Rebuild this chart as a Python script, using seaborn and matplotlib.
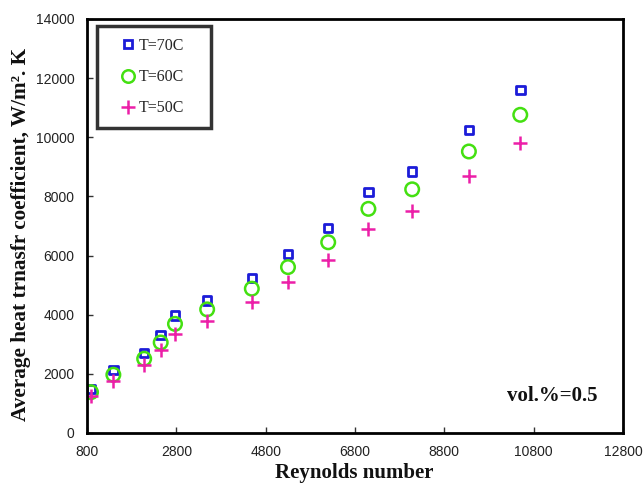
import matplotlib
matplotlib.use("Agg")
import matplotlib.pyplot as plt
import seaborn as sns
import pandas as pd
from matplotlib.lines import Line2D

# Reynolds number for each measurement
reynolds = [890, 1390, 2080, 2450, 2770, 3490, 4490, 5300, 6200, 7100, 8080, 9350, 10500]

# Average heat transfer coefficient (W/m2.K) at each inlet temperature
h_70 = [1490, 2130, 2710, 3320, 3970, 4490, 5240, 6050, 6930, 8150, 8840, 10250, 11600]
h_60 = [1380, 1970, 2510, 3060, 3690, 4180, 4880, 5610, 6450, 7580, 8240, 9520, 10760]
h_50 = [1260, 1770, 2290, 2800, 3340, 3800, 4430, 5100, 5850, 6910, 7500, 8690, 9800]

labels = ["T=70C", "T=60C", "T=50C"]
colors = ["#1c1cd8", "#44e011", "#ec1fa8"]

df = pd.DataFrame({
    "Re": reynolds * 3,
    "h": h_70 + h_60 + h_50,
    "series": [labels[0]] * len(reynolds) + [labels[1]] * len(reynolds) + [labels[2]] * len(reynolds),
})

sns.set_theme(style="white")
plt.rcParams["font.family"] = ["Liberation Sans", "DejaVu Sans"]

fig = plt.figure(figsize=(6.44, 4.84), dpi=100)
ax = fig.add_axes([87 / 644, 1 - 433 / 484, 536 / 644, 414 / 484])

styles = {
    labels[0]: dict(marker="s", s=38, facecolors="none", linewidths=2.0),
    labels[1]: dict(marker="o", s=95, facecolors="none", linewidths=1.8),
    labels[2]: dict(marker="+", s=110, linewidths=1.8),
}

for lab, col in zip(labels, colors):
    sub = df[df["series"] == lab]
    kw = dict(styles[lab])
    if kw["marker"] == "+":
        sns.scatterplot(data=sub, x="Re", y="h", ax=ax, color=col, legend=False, **kw)
    else:
        sns.scatterplot(data=sub, x="Re", y="h", ax=ax, edgecolor=col, legend=False, **kw)

ax.set_xlim(800, 12800)
ax.set_ylim(0, 14000)
ax.set_xticks(range(800, 12801, 2000))
ax.set_yticks(range(0, 14001, 2000))
ax.set_xlabel("")
ax.set_ylabel("")

for side in ["left", "bottom", "right", "top"]:
    ax.spines[side].set_color("black")
    ax.spines[side].set_linewidth(2.0)
ax.tick_params(axis="both", which="both", direction="in", length=4, width=1,
               color="#333333", labelsize=10, labelcolor="#222222",
               left=True, bottom=True, right=False, top=False, pad=9)

# Legend with outlined markers
handles = [
    Line2D([], [], marker="s", color=colors[0], markerfacecolor="none", markeredgewidth=2.0,
           markersize=6, linestyle="none"),
    Line2D([], [], marker="o", color=colors[1], markerfacecolor="none", markeredgewidth=1.8,
           markersize=9, linestyle="none"),
    Line2D([], [], marker="+", color=colors[2], markeredgewidth=1.8, markersize=10,
           linestyle="none"),
]
leg = ax.legend(handles, labels, loc="upper left",
                bbox_to_anchor=(0.0187, 0.761, 0.2127, 0.222), mode="expand",
                borderaxespad=0, frameon=True, fancybox=False, handlelength=2.4,
                handletextpad=-0.55, labelspacing=0.95, borderpad=0.75,
                prop={"family": "Liberation Serif", "size": 11.5})
leg.get_frame().set_edgecolor("black")
leg.get_frame().set_linewidth(2.5)
leg.get_frame().set_facecolor("white")

ax.text(0.953, 0.09, "vol.%=0.5", transform=ax.transAxes, ha="right", va="center",
        fontsize=15, fontweight="bold", family="Liberation Serif", color="#111111")

fig.text(354 / 644, 1 - 473 / 484, "Reynolds number", ha="center", va="center",
         fontsize=15, fontweight="bold", family="Liberation Serif", color="#111111")
fig.text(21 / 644, 1 - 234 / 484, "Average heat trnasfr coefficient, W/m\u00b2. K",
         ha="center", va="center", rotation=90, fontsize=15.3, fontweight="bold",
         family="Liberation Serif", color="#111111")

fig.savefig("out.png", dpi=100, facecolor="white")
